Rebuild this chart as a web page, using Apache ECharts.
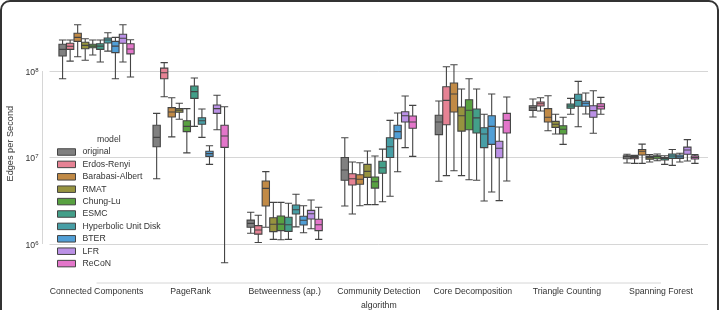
<!DOCTYPE html>
<html>
<head>
<meta charset="utf-8">
<script src="https://cdn.jsdelivr.net/npm/echarts@6/dist/echarts.min.js"></script>
<style>
html,body{margin:0;padding:0;background:#fff;overflow:hidden;}
#chart{position:absolute;left:0;top:0;width:722px;height:310px;}
#frame{position:absolute;left:0;top:0;width:719px;height:340px;box-sizing:border-box;border:2px solid #333;border-radius:10px;pointer-events:none;z-index:5;}
</style>
</head>
<body>
<div id="chart"></div>
<div id="frame"></div>
<script>
// ---- data (boxplot: [lower whisker, Q1, median, Q3, upper whisker]) ----
const categories = ['Connected Components','PageRank','Betweenness (ap.)','Community Detection','Core Decomposition','Triangle Counting','Spanning Forest'];
const models = ['original','Erdos-Renyi','Barabasi-Albert','RMAT','Chung-Lu','ESMC','Hyperbolic Unit Disk','BTER','LFR','ReCoN'];

const original = [
  [8.15e7,1.49e8,1.78e8,2.04e8,2.28e8],
  [5.69e6,1.33e7,1.71e7,2.36e7,3.24e7],
  [1.33e6,1.56e6,1.73e6,1.89e6,2.33e6],
  [2.75e6,5.45e6,7.16e6,1.0e7,1.69e7],
  [5.31e6,1.84e7,2.57e7,3.08e7,4.5e7],
  [2.94e7,3.51e7,3.77e7,3.97e7,4.74e7],
  [8.63e6,9.68e6,1.02e7,1.05e7,1.09e7]
];
const erdosRenyi = [
  [1.30e8,1.78e8,1.93e8,2.09e8,2.28e8],
  [5.05e7,8.15e7,9.55e7,1.08e8,1.25e8],
  [1.04e6,1.30e6,1.45e6,1.63e6,2.15e6],
  [2.22e6,4.81e6,5.69e6,6.50e6,8.87e6],
  [6.17e6,2.39e7,4.58e7,6.58e7,1.12e8],
  [3.45e7,3.94e7,4.19e7,4.38e7,4.91e7],
  [8.56e6,9.68e6,1.0e7,1.03e7,1.06e7]
];
const barabasiAlbert = [
  [1.46e8,2.20e8,2.45e8,2.73e8,3.43e8],
  [1.73e7,2.94e7,3.36e7,3.77e7,4.91e7],
  [1.56e6,2.75e6,4.40e6,5.35e6,6.86e6],
  [2.77e6,4.90e6,5.60e6,6.32e6,8.71e6],
  [7.03e6,3.36e7,5.42e7,7.26e7,1.18e8],
  [2.04e7,2.57e7,2.92e7,3.67e7,5.17e7],
  [8.56e6,1.07e7,1.18e7,1.24e7,1.43e7]
];
const rmat = [
  [1.33e8,1.81e8,1.98e8,2.15e8,2.36e8],
  [2.77e7,3.33e7,3.52e7,3.67e7,4.24e7],
  [1.13e6,1.39e6,1.69e6,2.01e6,3.03e6],
  [2.85e6,5.90e6,6.92e6,8.34e6,1.19e7],
  [6.17e6,2.02e7,3.04e7,3.84e7,6.2e7],
  [1.87e7,2.23e7,2.42e7,2.62e7,3.16e7],
  [8.87e6,9.57e6,1.0e7,1.03e7,1.08e7]
];
const chungLu = [
  [1.53e8,1.86e8,1.94e8,2.04e8,2.28e8],
  [1.13e7,1.99e7,2.29e7,2.66e7,3.67e7],
  [1.12e6,1.43e6,1.70e6,2.11e6,3.03e6],
  [2.85e6,4.43e6,5.25e6,5.96e6,1.04e7],
  [5.53e6,2.09e7,3.52e7,4.66e7,8.15e7],
  [1.42e7,1.87e7,2.12e7,2.33e7,2.92e7],
  [9.19e6,9.68e6,1.02e7,1.05e7,1.10e7]
];
const esmc = [
  [1.27e8,1.78e8,1.94e8,2.07e8,2.28e8],
  [2.29e7,4.83e7,5.77e7,6.71e7,8.3e7],
  [1.13e6,1.40e6,1.67e6,2.04e6,2.96e6],
  [3.08e6,6.57e6,7.62e6,9.04e6,1.25e7],
  [5.45e6,1.92e7,2.87e7,3.64e7,6.2e7],
  [3.16e7,3.71e7,3.94e7,4.15e7,4.83e7],
  [8.34e6,9.36e6,9.77e6,1.0e7,1.05e7]
];
const hyperbolic = [
  [1.70e8,2.11e8,2.28e8,2.41e8,2.77e8],
  [1.71e7,2.42e7,2.66e7,2.88e7,3.64e7],
  [1.58e6,2.22e6,2.49e6,2.83e6,3.76e6],
  [3.56e6,1.0e7,1.33e7,1.69e7,2.69e7],
  [3.14e6,1.30e7,1.87e7,2.21e7,3.16e7],
  [2.27e7,3.91e7,4.58e7,5.38e7,7.6e7],
  [8.12e6,9.77e6,1.04e7,1.10e7,1.24e7]
];
const bter = [
  [8.15e7,1.63e8,1.94e8,2.20e8,2.45e8],
  [8.34e6,1.03e7,1.11e7,1.18e7,1.37e7],
  [1.35e6,1.66e6,1.88e6,2.09e6,2.77e6],
  [6.85e6,1.65e7,1.99e7,2.36e7,3.27e7],
  [3.99e6,1.42e7,2.29e7,3.04e7,5.42e7],
  [3.18e7,3.91e7,4.24e7,4.47e7,5.57e7],
  [8.87e6,9.77e6,1.02e7,1.07e7,1.12e7]
];
const lfr = [
  [1.27e8,2.09e8,2.39e8,2.66e8,3.43e8],
  [2.09e7,3.24e7,3.67e7,4.05e7,5.24e7],
  [1.50e6,1.95e6,2.24e6,2.45e6,3.23e6],
  [1.30e7,2.57e7,3.04e7,3.38e7,5.14e7],
  [3.17e6,9.95e6,1.28e7,1.54e7,2.25e7],
  [1.91e7,2.92e7,3.48e7,3.97e7,5.91e7],
  [9.12e6,1.09e7,1.22e7,1.32e7,1.61e7]
];
const recon = [
  [8.53e7,1.58e8,1.80e8,2.07e8,2.30e8],
  [6.08e5,1.31e7,1.77e7,2.36e7,3.86e7],
  [1.13e6,1.43e6,1.67e6,1.93e6,2.66e6],
  [1.03e7,2.18e7,2.57e7,3.02e7,4.01e7],
  [5.35e6,1.92e7,2.69e7,3.24e7,5.0e7],
  [3.16e7,3.64e7,3.91e7,4.19e7,4.96e7],
  [8.56e6,9.6e6,1.0e7,1.04e7,1.08e7]
];
const seriesData = [original, erdosRenyi, barabasiAlbert, rmat, chungLu, esmc, hyperbolic, bter, lfr, recon];

// ---- styles ----
const colors = ['#808080','#e68294','#c18a46','#96933f','#58a141','#439f89','#479ea5','#519fd6','#bb91e6','#e376ca'];
const edge = '#444444';
const textColor = '#333333';
const gridColor = '#d6d6d6';
const fontFamily = 'Liberation Sans, Arial, sans-serif';
const yMin = 4.43e5, yMax = 4.71e8;

const chart = echarts.init(document.getElementById('chart'), null, {renderer: 'canvas'});
const option = {
  animation: false,
  textStyle: {fontFamily: fontFamily},
  grid: {left: 49.5, right: 14, top: 12.8, bottom: 35.4, outerBoundsMode: 'none', containLabel: false},
  title: {
    text: 'model', left: 92, top: 130,
    textStyle: {fontSize: 8.7, fontWeight: 'normal', color: textColor, fontFamily: fontFamily}
  },
  legend: {
    orient: 'vertical', left: 52, top: 142,
    itemWidth: 18, itemHeight: 6.5, itemGap: 2.4,
    icon: 'rect',
    data: models.map(function (m, i) {
      return {name: m, itemStyle: {color: colors[i], borderColor: edge, borderWidth: 1}};
    }),
    textStyle: {fontSize: 8.7, color: textColor, lineHeight: 10, padding: [0,0,0,2], fontFamily: fontFamily}
  },
  xAxis: {
    type: 'category', data: categories,
    offset: 8.4,
    axisLine: {show: false}, axisTick: {show: false},
    axisLabel: {fontSize: 8.7, color: textColor, margin: 4, interval: 0},
    splitLine: {show: false},
    name: 'algorithm', nameLocation: 'middle', nameGap: 15,
    nameTextStyle: {fontSize: 8.7, color: textColor}
  },
  yAxis: {
    type: 'log', logBase: 10, min: yMin, max: yMax,
    offset: 7,
    axisLine: {show: false}, axisTick: {show: false},
    splitLine: {show: true, showMinLine: false, showMaxLine: false, lineStyle: {color: gridColor, width: 1}},
    axisLabel: {
      margin: 4, color: textColor, padding: [3,0,0,0],
      formatter: function (v) {
        const e = Math.log10(v); const r = Math.round(e);
        if (Math.abs(e - r) > 1e-6) return '';
        return '{b|10}{s|' + r + '}';
      },
      rich: {
        b: {fontSize: 8.7, color: textColor, fontFamily: fontFamily},
        s: {fontSize: 6, color: textColor, padding: [0,0,5,0], fontFamily: fontFamily}
      }
    },
    name: 'Edges per Second', nameLocation: 'middle', nameGap: 24,
    nameTextStyle: {fontSize: 9.2, color: textColor}
  },
  series: models.map(function (m, i) {
    return {
      name: m, type: 'boxplot',
      data: seriesData[i],
      boxWidth: [7.3, 7.3],
      itemStyle: {color: colors[i], borderColor: edge, borderWidth: 1.1},
      emphasis: {disabled: true}
    };
  })
};
chart.setOption(option);

// trimmed spines (seaborn despine style), positioned via the axes' own scales
const yTop = chart.convertToPixel({yAxisIndex: 0}, 1e8);
const yBot = chart.convertToPixel({yAxisIndex: 0}, 1e6);
const yBase = chart.convertToPixel({yAxisIndex: 0}, yMin);
const x0 = chart.convertToPixel({xAxisIndex: 0}, categories[0]);
const x1 = chart.convertToPixel({xAxisIndex: 0}, categories[categories.length - 1]);
const xLeft = x0 - (x1 - x0) / (categories.length - 1) / 2;
chart.setOption({
  graphic: [
    {type: 'line', silent: true, z: 0, shape: {x1: xLeft - 7, y1: yTop, x2: xLeft - 7, y2: yBot}, style: {stroke: gridColor, lineWidth: 1}},
    {type: 'line', silent: true, z: 0, shape: {x1: x0, y1: yBase + 8.4, x2: x1, y2: yBase + 8.4}, style: {stroke: gridColor, lineWidth: 1}}
  ]
});
</script>
</body>
</html>
